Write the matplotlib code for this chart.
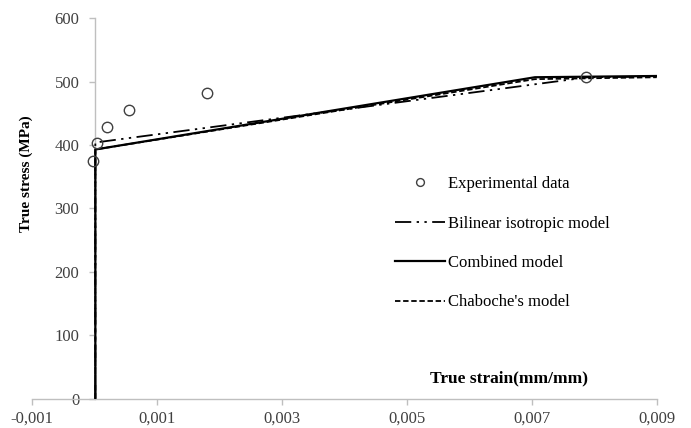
import matplotlib
matplotlib.use('Agg')
import matplotlib.pyplot as plt
from matplotlib.ticker import FuncFormatter

# experimental points
exp_strain = [-0.00002, 0.00003, 0.00019, 0.00055, 0.0018, 0.00787]
exp_stress = [375, 403, 429, 455, 482, 508]

# model curves
bilinear_strain = [0.00001, 0.00001, 0.0079, 0.009]
bilinear_stress = [0, 404, 507, 508]

combined_strain = [0.00001, 0.00001, 0.00705, 0.009]
combined_stress = [0, 393, 507, 509]

chaboche_strain = [0.00001, 0.00001, 0.00705, 0.009]
chaboche_stress = [0, 393, 504, 507]

x_ticks = [-0.001, 0.001, 0.003, 0.005, 0.007, 0.009]
y_ticks = [0, 100, 200, 300, 400, 500, 600]

plt.rcParams['font.family'] = 'Liberation Serif'
axis_grey = '#bfbfbf'
label_grey = '#404040'

fig = plt.figure(figsize=(6.91, 4.28), dpi=100)
ax = fig.add_axes([0.0467, 0.0689, 0.9036, 0.8883])

ax.plot(bilinear_strain, bilinear_stress, color='black', linewidth=1.3,
        dashes=(9, 3, 1.3, 3, 1.3, 3), label='Bilinear isotropic model', zorder=3)
ax.plot(combined_strain, combined_stress, color='black', linewidth=1.6,
        label='Combined model', zorder=4)
ax.plot(chaboche_strain, chaboche_stress, color='black', linewidth=1.3,
        dashes=(3, 1.5), label="Chaboche's model", zorder=3)
ax.plot(exp_strain, exp_stress, linestyle='none', marker='o', markersize=7.5,
        markerfacecolor='none', markeredgecolor='#404040', markeredgewidth=1.0,
        label='Experimental data', zorder=5)

ax.set_xlim(-0.001, 0.009)
ax.set_ylim(0, 600)
ax.set_xticks(x_ticks)
ax.set_yticks(y_ticks)
ax.xaxis.set_major_formatter(FuncFormatter(lambda v, p: f'{v:.3f}'.replace('.', ',')))

for side in ['top', 'right']:
    ax.spines[side].set_visible(False)
ax.spines['left'].set_position(('data', 0))
for side in ['left', 'bottom']:
    ax.spines[side].set_color(axis_grey)
    ax.spines[side].set_linewidth(1.0)
ax.tick_params(axis='both', direction='out', length=4, width=1.0, color=axis_grey,
               labelsize=12, labelcolor=label_grey)
ax.tick_params(axis='x', pad=4.5)
ax.tick_params(axis='y', pad=7)

fig.text(26.7 / 691, 1 - 174 / 428, 'True stress (MPa)', rotation=90, ha='center', va='center',
         fontsize=11, fontweight='bold')
ax.text(0.00663, 32, 'True strain(mm/mm)', ha='center', va='center',
        fontsize=12.5, fontweight='bold')

handles, labels = ax.get_legend_handles_labels()
order = [3, 0, 1, 2]
leg = ax.legend([handles[i] for i in order], [labels[i] for i in order],
                loc='upper left', bbox_to_anchor=(395 / 691, 1 - 176 / 428),
                bbox_transform=fig.transFigure, frameon=False, fontsize=12,
                handlelength=3.0, handletextpad=0.15, labelspacing=1.41,
                borderpad=0, borderaxespad=0, markerscale=0.75)

fig.savefig('out.png', dpi=100)
